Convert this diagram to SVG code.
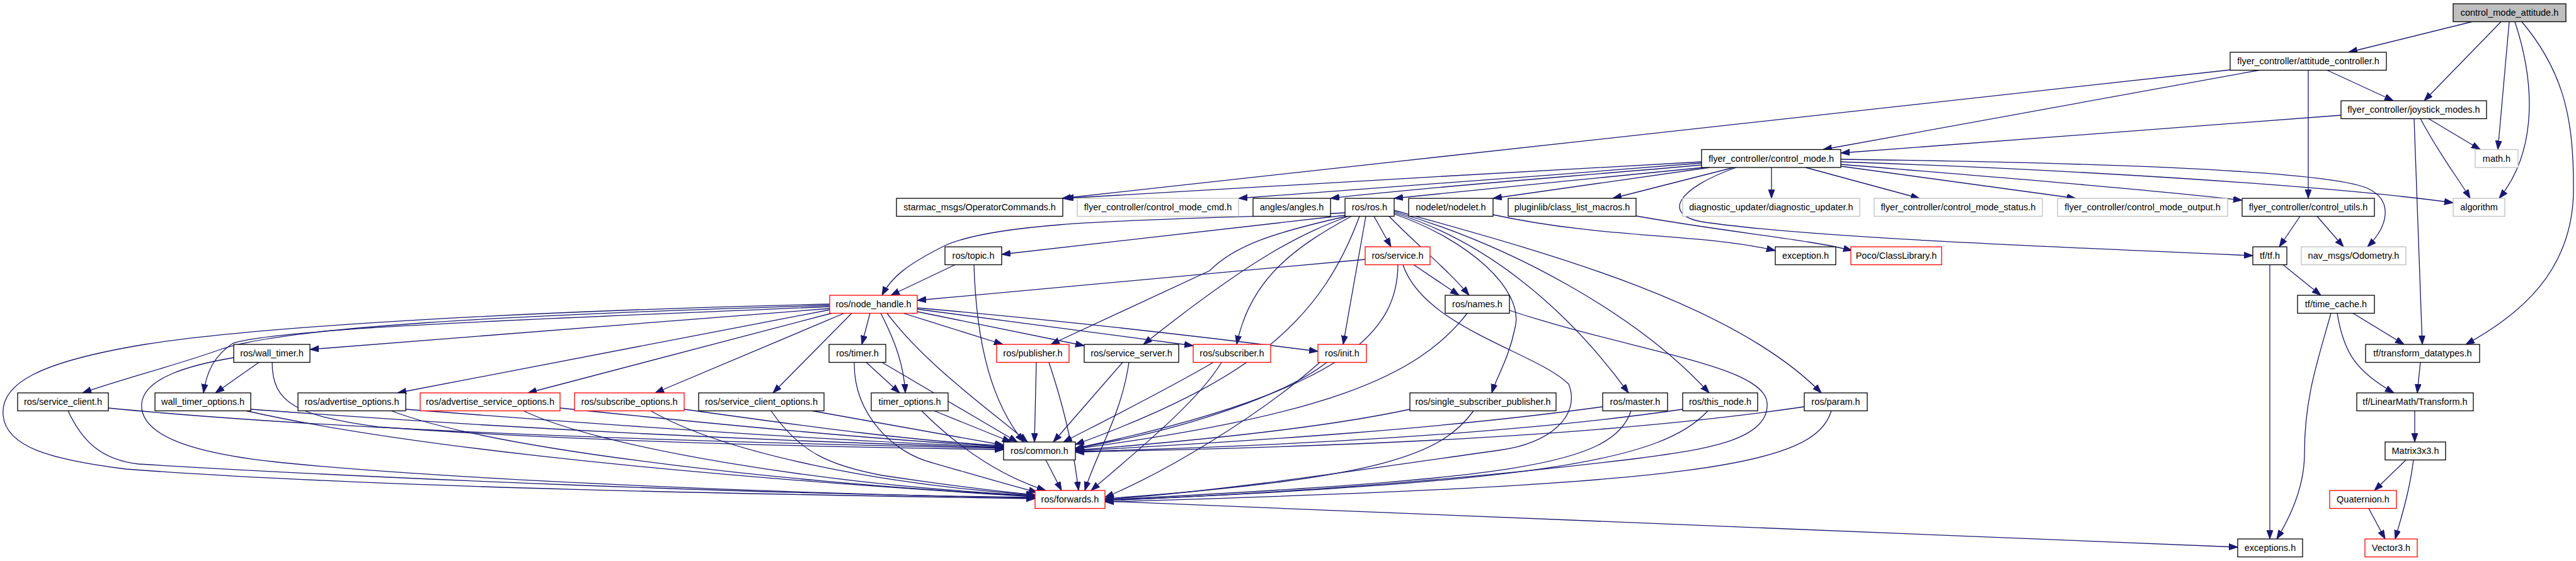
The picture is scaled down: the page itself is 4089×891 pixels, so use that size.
<svg xmlns="http://www.w3.org/2000/svg" width="4089" height="891" viewBox="0 0 4089 891">
<style>
.e{fill:none;stroke:#191970;stroke-width:1.3;marker-end:url(#a)}
.n rect{fill:#fff;stroke:#000;stroke-width:1.3}
.g rect{stroke:#bfbfbf}
.r rect{stroke:#ff0000}
.root rect{fill:#bfbfbf}
text{font-family:"Liberation Sans",Arial,sans-serif;font-size:14.5px;text-anchor:middle;fill:#000}
</style>
<defs>
<marker id="a" markerUnits="userSpaceOnUse" markerWidth="15" markerHeight="11" refX="14" refY="5" orient="auto">
<path d="M0,0 L14,5 L0,10 Z" fill="#191970" stroke="#191970" stroke-width="1"/>
</marker>
</defs>
<rect x="0" y="0" width="4089" height="891" fill="#fff"/>
<g id="edges">
<path class="e" d="M3924,34.5 L3728,83"/>
<path class="e" d="M3970,34.5 L3848,160"/>
<path class="e" d="M3983,34.5 L3965,237.5"/>
<path class="e" d="M3992,34.5 C4030,150 4020,250 3967,315"/>
<path class="e" d="M4003,34.5 C4075,120 4085,200 4085,300 C4085,430 4000,500 3914,547"/>
<path class="e" d="M3694,111.5 L3799,160"/>
<path class="e" d="M3664,111.5 L3664,315"/>
<path class="e" d="M3540,111 L1686,315"/>
<path class="e" d="M3586,111.5 L2894,237.5"/>
<path class="e" d="M3716,183 L2922,243"/>
<path class="e" d="M3855,188.5 L3937,237.5"/>
<path class="e" d="M3842,188.5 C3875,250 3900,280 3921,315"/>
<path class="e" d="M3832,188.5 L3845,547"/>
<path class="e" d="M2701,257 C2400,275 1900,300 1690,315"/>
<path class="e" d="M2701,259 C2450,280 2150,300 1966,315"/>
<path class="e" d="M2701,262 C2500,280 2250,298 2112,315"/>
<path class="e" d="M2704,266 C2550,282 2350,300 2213,315"/>
<path class="e" d="M2714,266 L2370,315"/>
<path class="e" d="M2752,266 L2560,315"/>
<path class="e" d="M2756,266 C2660,300 2640,340 2700,352 C2850,375 3200,390 3576,406"/>
<path class="e" d="M2812,266 L2812,315"/>
<path class="e" d="M2866,266 L3047,315"/>
<path class="e" d="M2922,264 L3295,315"/>
<path class="e" d="M2922,261 C3150,280 3400,300 3559,318"/>
<path class="e" d="M2922,257 C3300,270 3700,295 3894,322"/>
<path class="e" d="M2922,253 C3300,258 3700,270 3760,300 C3800,320 3790,360 3758,392"/>
<path class="e" d="M2135,342 L1590,404"/>
<path class="e" d="M2135,338 C1900,350 1600,345 1500,390 C1440,420 1415,440 1400,469"/>
<path class="e" d="M2137,343.5 C2020,370 1960,390 1920,430 L1668,547"/>
<path class="e" d="M2140,343.5 C2070,370 2000,400 1815,547"/>
<path class="e" d="M2145,343.5 C2060,390 1985,440 1963,547"/>
<path class="e" d="M2168,343.5 L2132,547"/>
<path class="e" d="M2181,343.5 L2208,392"/>
<path class="e" d="M2205,343.5 C2250,390 2300,430 2332,469"/>
<path class="e" d="M2158,343.5 C2100,500 2000,600 1707,706"/>
<path class="e" d="M2213,340 C2330,380 2420,460 2405,520 C2395,570 2375,600 2368,624"/>
<path class="e" d="M2213,338 C2350,380 2480,480 2585,624"/>
<path class="e" d="M2213,336 C2400,390 2600,500 2713,624"/>
<path class="e" d="M2213,334 C2450,400 2750,480 2891,624"/>
<path class="e" d="M2167,412 L1456,477"/>
<path class="e" d="M2244,420.5 L2316,469"/>
<path class="e" d="M2219,420.5 C2218,520 2150,620 1707,712"/>
<path class="e" d="M2227,420.5 C2260,520 2440,560 2490,610 C2510,660 2460,705 2380,715 C2200,740 1950,780 1754,793"/>
<path class="e" d="M2329,497.5 C2250,600 2100,660 1707,713"/>
<path class="e" d="M2396,493 C2600,560 2800,580 2805,640 C2810,700 2700,715 2600,728 C2300,765 2000,785 1754,795"/>
<path class="e" d="M2106,575.5 C2050,620 1900,680 1707,712"/>
<path class="e" d="M2095,575.5 C2000,660 1850,750 1754,790"/>
<path class="e" d="M2238,650 C2100,680 1900,700 1707,715"/>
<path class="e" d="M2339,652.5 C2290,720 2200,760 1754,792"/>
<path class="e" d="M2544,646 C2300,680 2000,700 1707,716"/>
<path class="e" d="M2589,652.5 C2560,740 2400,760 1754,794"/>
<path class="e" d="M2671,650 C2400,690 2000,710 1707,717"/>
<path class="e" d="M2711,652.5 C2640,730 2450,765 1754,795"/>
<path class="e" d="M2864,646 C2500,700 2000,712 1707,718"/>
<path class="e" d="M2907,652.5 C2880,740 2700,770 1754,797"/>
<path class="e" d="M1754,796 L3552,869"/>
<path class="e" d="M1317,490 L492,555"/>
<path class="e" d="M1317,485 C800,500 450,520 350,555 C280,580 200,600 131,624"/>
<path class="e" d="M1317,487 C900,505 450,520 370,545 C340,565 328,590 323,624"/>
<path class="e" d="M1317,483 C800,495 400,520 230,547 C60,575 0,610 5,660 C10,710 80,730 200,745 C600,775 1200,785 1643,792"/>
<path class="e" d="M1317,492 L631,624"/>
<path class="e" d="M1320,497.5 L838,624"/>
<path class="e" d="M1340,497.5 L1040,624"/>
<path class="e" d="M1352,497.5 L1227,624"/>
<path class="e" d="M1381,497.5 L1368,547"/>
<path class="e" d="M1398,497.5 C1420,540 1435,580 1437,624"/>
<path class="e" d="M1408,497.5 C1470,580 1570,650 1631,702"/>
<path class="e" d="M1434,497.5 L1592,547"/>
<path class="e" d="M1456,495 L1721,549"/>
<path class="e" d="M1456,491 L1894,549"/>
<path class="e" d="M1456,489 C1700,510 1950,540 2092,558"/>
<path class="e" d="M411,575.5 L342,624"/>
<path class="e" d="M432,575.5 C432,640 470,660 600,678 C900,700 1300,710 1593,714"/>
<path class="e" d="M371,568 C300,580 230,600 225,640 C220,690 300,720 450,735 C700,760 1200,783 1643,791"/>
<path class="e" d="M171.5,648 C500,680 1000,700 1593,712"/>
<path class="e" d="M108,652.5 C130,700 160,730 220,737 C600,760 1200,785 1643,790"/>
<path class="e" d="M398,650 C800,680 1200,700 1593,711"/>
<path class="e" d="M391,652.5 C600,700 1000,750 1643,789"/>
<path class="e" d="M644,650 C900,670 1300,700 1593,710"/>
<path class="e" d="M621,652.5 C800,720 1300,770 1643,788"/>
<path class="e" d="M889,648 C1100,670 1400,700 1593,709"/>
<path class="e" d="M831,652.5 C950,710 1300,770 1643,787"/>
<path class="e" d="M1086,650 C1300,680 1450,700 1593,708"/>
<path class="e" d="M1033,652.5 C1150,720 1400,770 1643,786"/>
<path class="e" d="M1289,652.5 L1593,707"/>
<path class="e" d="M1224,652.5 C1270,720 1320,740 1400,755 C1500,770 1580,780 1643,786"/>
<path class="e" d="M1483,652.5 L1605,702"/>
<path class="e" d="M1463,652.5 C1530,720 1600,760 1660,779"/>
<path class="e" d="M1375,575.5 L1428,624"/>
<path class="e" d="M1400,575.5 L1615,702"/>
<path class="e" d="M1356,575.5 C1355,660 1420,720 1480,735 C1550,755 1600,770 1647,782"/>
<path class="e" d="M1516,420.5 L1414,469"/>
<path class="e" d="M1546,420.5 C1550,550 1575,640 1625,702"/>
<path class="e" d="M1645,575.5 L1642,702"/>
<path class="e" d="M1665,575.5 C1690,650 1705,720 1712,779"/>
<path class="e" d="M1782,575.5 L1672,702"/>
<path class="e" d="M1792,575.5 C1780,660 1740,720 1722,779"/>
<path class="e" d="M1926,575.5 C1850,620 1750,670 1688,702"/>
<path class="e" d="M1939,575.5 C1900,640 1800,720 1732,779"/>
<path class="e" d="M1660,730.5 L1685,779"/>
<path class="e" d="M3651,343.5 L3618,392"/>
<path class="e" d="M3678,343.5 L3720,392"/>
<path class="e" d="M3624,420.5 L3684,469"/>
<path class="e" d="M3603,420.5 L3603,856"/>
<path class="e" d="M3735,497.5 L3816,547"/>
<path class="e" d="M3700,497.5 C3680,570 3658,630 3658,720 C3658,780 3630,830 3614,856"/>
<path class="e" d="M3710,497.5 C3720,560 3740,590 3800,624"/>
<path class="e" d="M3842,575.5 L3837,624"/>
<path class="e" d="M3833,652.5 L3833,702"/>
<path class="e" d="M3819,730.5 L3769,779"/>
<path class="e" d="M3831,730.5 C3825,780 3812,820 3802,856"/>
<path class="e" d="M3760,807.5 L3786,856"/>
<path class="e" d="M2370,341 C2550,380 2700,370 2818,398"/>
<path class="e" d="M2597,343 C2750,370 2870,380 2940,398"/>
</g>
<g id="n_root" class="n root"><rect x="3894" y="6" width="179" height="28.5"/><text x="3983.5" y="25">control_mode_attitude.h</text></g>
<g id="n_att" class="n"><rect x="3540" y="83" width="248" height="28.5"/><text x="3664" y="102">flyer_controller/attitude_controller.h</text></g>
<g id="n_joy" class="n"><rect x="3716" y="160" width="231" height="28.5"/><text x="3831.5" y="179">flyer_controller/joystick_modes.h</text></g>
<g id="n_math" class="n g"><rect x="3929" y="237.5" width="68" height="28.5"/><text x="3963" y="256.5">math.h</text></g>
<g id="n_cm" class="n"><rect x="2701" y="237.5" width="221" height="28.5"/><text x="2811.5" y="256.5">flyer_controller/control_mode.h</text></g>
<g id="n_starmac" class="n"><rect x="1423" y="315" width="264" height="28.5"/><text x="1555" y="334">starmac_msgs/OperatorCommands.h</text></g>
<g id="n_cmd" class="n g"><rect x="1710" y="315" width="256" height="28.5"/><text x="1838" y="334">flyer_controller/control_mode_cmd.h</text></g>
<g id="n_angles" class="n"><rect x="1989" y="315" width="123" height="28.5"/><text x="2050.5" y="334">angles/angles.h</text></g>
<g id="n_ros" class="n"><rect x="2135" y="315" width="78" height="28.5"/><text x="2174" y="334">ros/ros.h</text></g>
<g id="n_nodelet" class="n"><rect x="2236" y="315" width="134" height="28.5"/><text x="2303" y="334">nodelet/nodelet.h</text></g>
<g id="n_plugin" class="n"><rect x="2394" y="315" width="203" height="28.5"/><text x="2495.5" y="334">pluginlib/class_list_macros.h</text></g>
<g id="n_diag" class="n g"><rect x="2671" y="315" width="281" height="28.5"/><text x="2811.5" y="334">diagnostic_updater/diagnostic_updater.h</text></g>
<g id="n_status" class="n g"><rect x="2975" y="315" width="267" height="28.5"/><text x="3108.5" y="334">flyer_controller/control_mode_status.h</text></g>
<g id="n_output" class="n g"><rect x="3266" y="315" width="270" height="28.5"/><text x="3401" y="334">flyer_controller/control_mode_output.h</text></g>
<g id="n_utils" class="n"><rect x="3559" y="315" width="210" height="28.5"/><text x="3664" y="334">flyer_controller/control_utils.h</text></g>
<g id="n_algo" class="n g"><rect x="3894" y="315" width="82" height="28.5"/><text x="3935" y="334">algorithm</text></g>
<g id="n_topic" class="n"><rect x="1500" y="392" width="90" height="28.5"/><text x="1545" y="411">ros/topic.h</text></g>
<g id="n_service" class="n r"><rect x="2167" y="392" width="103" height="28.5"/><text x="2218.5" y="411">ros/service.h</text></g>
<g id="n_exception" class="n"><rect x="2818" y="392" width="96" height="28.5"/><text x="2866" y="411">exception.h</text></g>
<g id="n_poco" class="n r"><rect x="2938" y="392" width="144" height="28.5"/><text x="3010" y="411">Poco/ClassLibrary.h</text></g>
<g id="n_tf" class="n"><rect x="3576" y="392" width="54" height="28.5"/><text x="3603" y="411">tf/tf.h</text></g>
<g id="n_odom" class="n g"><rect x="3653" y="392" width="166" height="28.5"/><text x="3736" y="411">nav_msgs/Odometry.h</text></g>
<g id="n_nh" class="n r"><rect x="1317" y="469" width="139" height="28.5"/><text x="1386.5" y="488">ros/node_handle.h</text></g>
<g id="n_names" class="n"><rect x="2294" y="469" width="102" height="28.5"/><text x="2345" y="488">ros/names.h</text></g>
<g id="n_tc" class="n"><rect x="3647" y="469" width="122" height="28.5"/><text x="3708" y="488">tf/time_cache.h</text></g>
<g id="n_wt" class="n"><rect x="371" y="547" width="121" height="28.5"/><text x="431.5" y="566">ros/wall_timer.h</text></g>
<g id="n_timer" class="n"><rect x="1316" y="547" width="90" height="28.5"/><text x="1361" y="566">ros/timer.h</text></g>
<g id="n_pub" class="n r"><rect x="1582" y="547" width="115" height="28.5"/><text x="1639.5" y="566">ros/publisher.h</text></g>
<g id="n_ss" class="n"><rect x="1721" y="547" width="150" height="28.5"/><text x="1796" y="566">ros/service_server.h</text></g>
<g id="n_sub" class="n r"><rect x="1894" y="547" width="123" height="28.5"/><text x="1955.5" y="566">ros/subscriber.h</text></g>
<g id="n_init" class="n r"><rect x="2092" y="547" width="77" height="28.5"/><text x="2130.5" y="566">ros/init.h</text></g>
<g id="n_td" class="n"><rect x="3755" y="547" width="181" height="28.5"/><text x="3845.5" y="566">tf/transform_datatypes.h</text></g>
<g id="n_sc" class="n"><rect x="28" y="624" width="144" height="28.5"/><text x="100" y="643">ros/service_client.h</text></g>
<g id="n_wto" class="n"><rect x="246" y="624" width="152" height="28.5"/><text x="322" y="643">wall_timer_options.h</text></g>
<g id="n_ao" class="n"><rect x="473" y="624" width="171" height="28.5"/><text x="558.5" y="643">ros/advertise_options.h</text></g>
<g id="n_aso" class="n r"><rect x="667" y="624" width="222" height="28.5"/><text x="778" y="643">ros/advertise_service_options.h</text></g>
<g id="n_so" class="n r"><rect x="912" y="624" width="174" height="28.5"/><text x="999" y="643">ros/subscribe_options.h</text></g>
<g id="n_sco" class="n"><rect x="1109" y="624" width="199" height="28.5"/><text x="1208.5" y="643">ros/service_client_options.h</text></g>
<g id="n_to" class="n"><rect x="1383" y="624" width="122" height="28.5"/><text x="1444" y="643">timer_options.h</text></g>
<g id="n_ssp" class="n"><rect x="2238" y="624" width="232" height="28.5"/><text x="2354" y="643">ros/single_subscriber_publisher.h</text></g>
<g id="n_master" class="n"><rect x="2544" y="624" width="103" height="28.5"/><text x="2595.5" y="643">ros/master.h</text></g>
<g id="n_thisnode" class="n"><rect x="2671" y="624" width="119" height="28.5"/><text x="2730.5" y="643">ros/this_node.h</text></g>
<g id="n_param" class="n"><rect x="2864" y="624" width="100" height="28.5"/><text x="2914" y="643">ros/param.h</text></g>
<g id="n_transform" class="n"><rect x="3741" y="624" width="185" height="28.5"/><text x="3833.5" y="643">tf/LinearMath/Transform.h</text></g>
<g id="n_common" class="n"><rect x="1593" y="702" width="114" height="28.5"/><text x="1650" y="721">ros/common.h</text></g>
<g id="n_matrix" class="n"><rect x="3786" y="702" width="96" height="28.5"/><text x="3834" y="721">Matrix3x3.h</text></g>
<g id="n_fwd" class="n r"><rect x="1643" y="779" width="111" height="28.5"/><text x="1698.5" y="798">ros/forwards.h</text></g>
<g id="n_quat" class="n r"><rect x="3698" y="779" width="106" height="28.5"/><text x="3751" y="798">Quaternion.h</text></g>
<g id="n_exceptions" class="n"><rect x="3552" y="856" width="103" height="28.5"/><text x="3603.5" y="875">exceptions.h</text></g>
<g id="n_vec" class="n r"><rect x="3754" y="856" width="83" height="28.5"/><text x="3795.5" y="875">Vector3.h</text></g>
</svg>
